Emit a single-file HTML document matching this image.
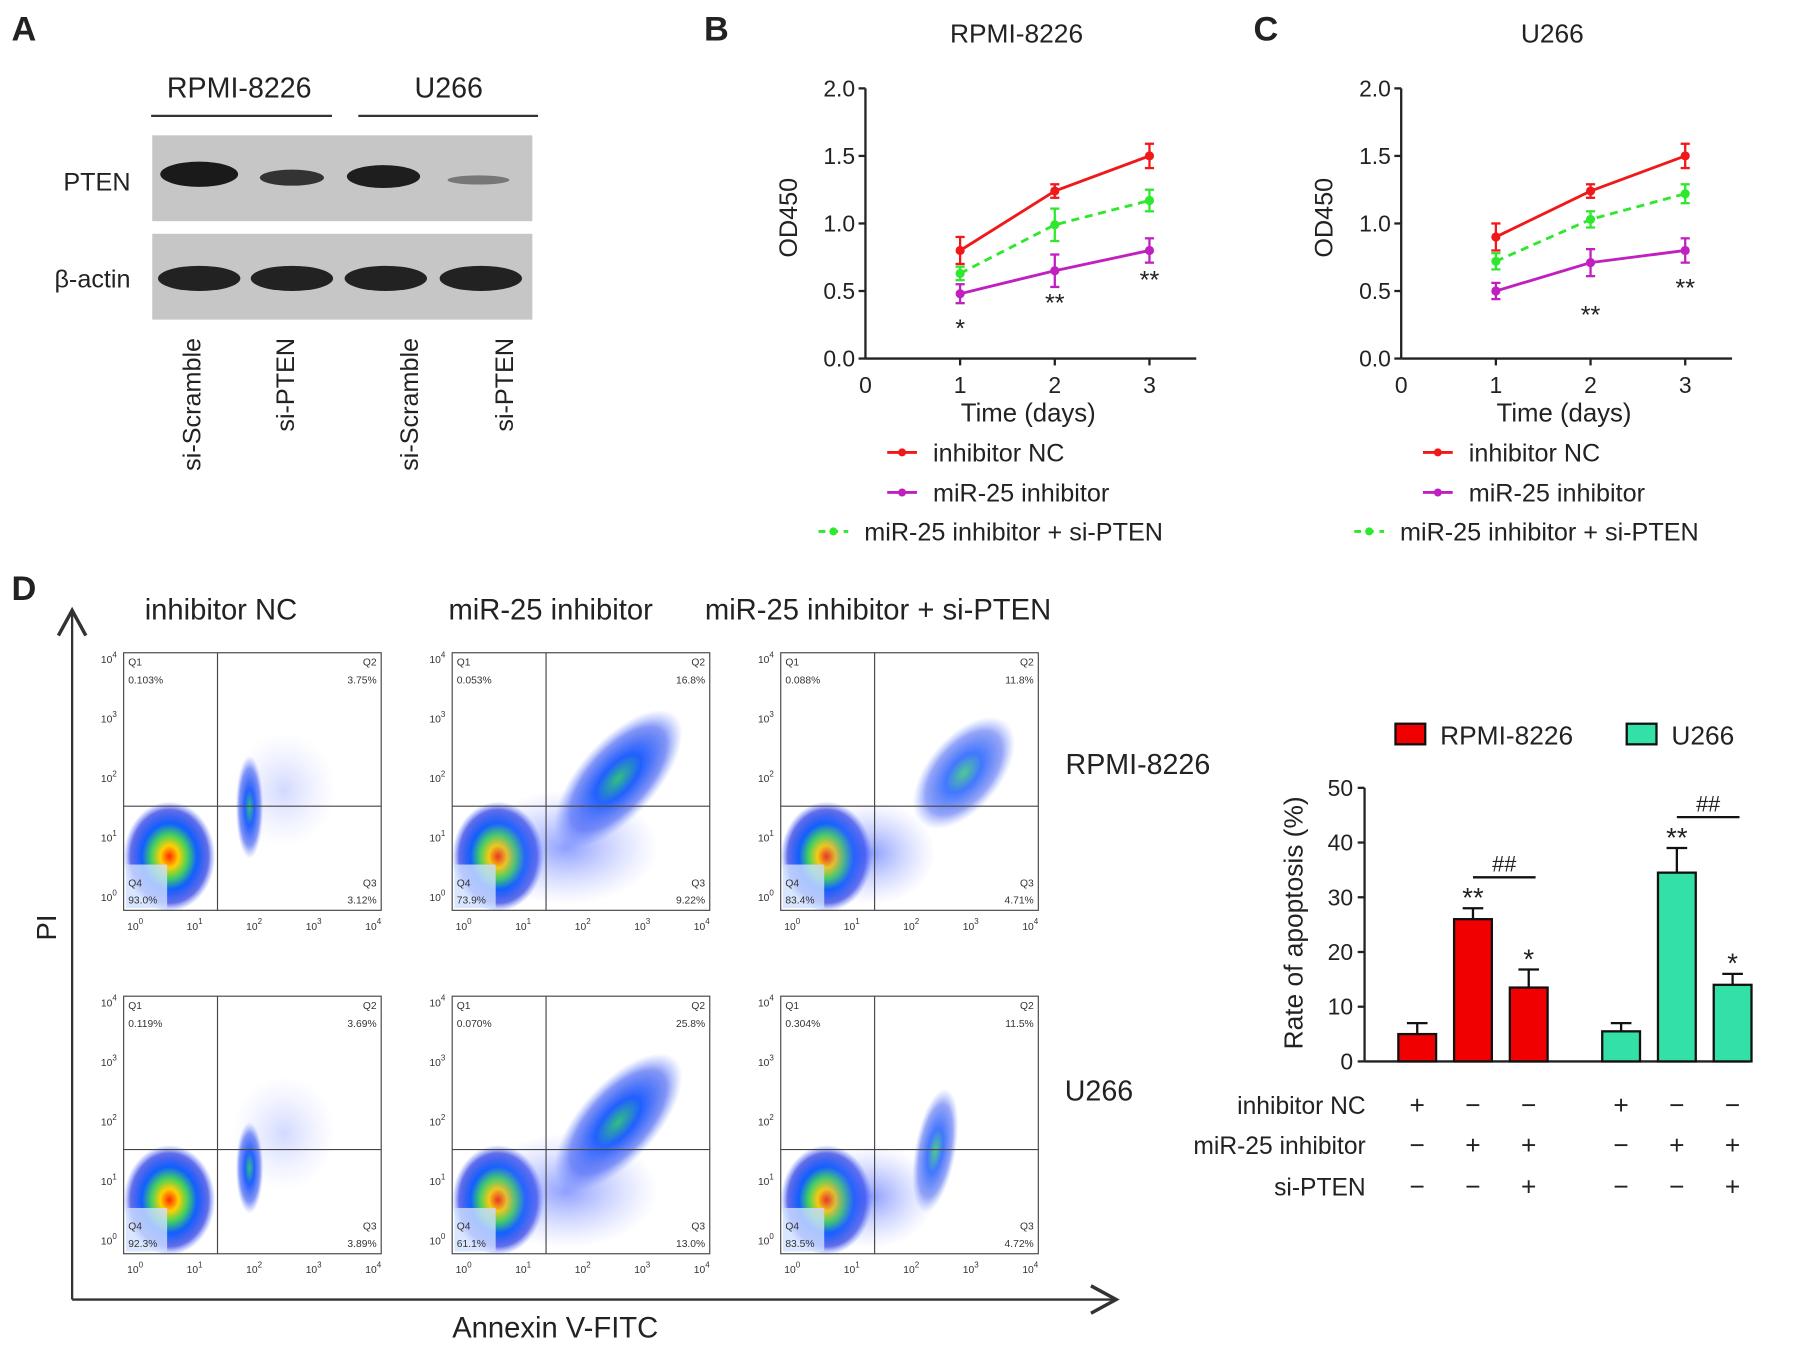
<!DOCTYPE html>
<html><head><meta charset="utf-8">
<style>
html,body{margin:0;padding:0;background:#fff;}
svg{display:block;font-family:"Liberation Sans",sans-serif;}
</style></head>
<body>
<svg id="fig" width="1795" height="1349" viewBox="0 0 1568 1178" xmlns="http://www.w3.org/2000/svg">
<defs>
<radialGradient id="heat" cx="50%" cy="50%" r="50%">
<stop offset="0" stop-color="#ff2a00"/><stop offset="0.2" stop-color="#ffd000"/>
<stop offset="0.4" stop-color="#40d060"/><stop offset="0.6" stop-color="#1060ff"/>
<stop offset="0.85" stop-color="#2030e0" stop-opacity="0.7"/><stop offset="1" stop-color="#4060ff" stop-opacity="0"/>
</radialGradient>
<radialGradient id="cool" cx="50%" cy="50%" r="50%">
<stop offset="0" stop-color="#30c080"/><stop offset="0.35" stop-color="#2060ff"/>
<stop offset="0.75" stop-color="#3050f0" stop-opacity="0.6"/><stop offset="1" stop-color="#6080ff" stop-opacity="0"/>
</radialGradient>
<radialGradient id="faint" cx="50%" cy="50%" r="50%">
<stop offset="0" stop-color="#3050ff" stop-opacity="0.55"/><stop offset="1" stop-color="#8090ff" stop-opacity="0"/>
</radialGradient>
<marker id="arr" markerWidth="14" markerHeight="14" refX="12" refY="7" orient="auto"><path d="M1,1 L12,7 L1,13" fill="none" stroke="#333" stroke-width="1.5"/></marker>
</defs>

<!-- Panel A -->
<g>
<text x="10" y="35" font-size="30" font-weight="bold" fill="#222">A</text>
<text x="209" y="85" font-size="25" text-anchor="middle" fill="#222">RPMI-8226</text>
<line x1="132" y1="101" x2="290" y2="101" stroke="#333" stroke-width="2"/>
<text x="392" y="85" font-size="25" text-anchor="middle" fill="#222">U266</text>
<line x1="313" y1="101" x2="470" y2="101" stroke="#333" stroke-width="2"/>
<rect x="133" y="118" width="332" height="75" fill="#c6c6c6"/>
<rect x="133" y="204" width="332" height="75" fill="#c6c6c6"/>
<ellipse cx="174" cy="152" rx="34" ry="11" fill="#1a1a1a"/>
<ellipse cx="255" cy="155" rx="28" ry="7" fill="#333"/>
<ellipse cx="335" cy="154" rx="32" ry="10" fill="#1e1e1e"/>
<ellipse cx="418" cy="157" rx="27" ry="4" fill="#777"/>
<ellipse cx="174" cy="243" rx="36" ry="11" fill="#222"/>
<ellipse cx="255" cy="243" rx="36" ry="11" fill="#222"/>
<ellipse cx="337" cy="243" rx="36" ry="11" fill="#222"/>
<ellipse cx="420" cy="243" rx="36" ry="11" fill="#222"/>
<text x="114" y="166" font-size="22" text-anchor="end" fill="#222">PTEN</text>
<text x="114" y="251" font-size="22" text-anchor="end" fill="#222">β-actin</text>
<text transform="translate(175,295) rotate(-90)" font-size="22" text-anchor="end" fill="#222">si-Scramble</text>
<text transform="translate(257,295) rotate(-90)" font-size="22" text-anchor="end" fill="#222">si-PTEN</text>
<text transform="translate(365,295) rotate(-90)" font-size="22" text-anchor="end" fill="#222">si-Scramble</text>
<text transform="translate(448,295) rotate(-90)" font-size="22" text-anchor="end" fill="#222">si-PTEN</text>
</g>

<g id="lineB"></g>
<g id="lineC"></g>
<g id="flow"></g>
<g id="bars"></g>
</svg>

<script>
// ---- line chart data ----
const days = [1, 2, 3];
const yTicks = [0.0, 0.5, 1.0, 1.5, 2.0];
const xTicks = [0, 1, 2, 3];
const bNC = [0.80, 1.24, 1.50];
const bNCerr = [0.10, 0.05, 0.09];
const bInh = [0.48, 0.65, 0.80];
const bInhErr = [0.07, 0.12, 0.09];
const bSi = [0.63, 0.99, 1.17];
const bSiErr = [0.05, 0.12, 0.08];
const bStars = ["*", "**", "**"];
const bStarVal = [0.26, 0.45, 0.62];
const cNC = [0.90, 1.24, 1.50];
const cNCerr = [0.10, 0.05, 0.09];
const cInh = [0.50, 0.71, 0.80];
const cInhErr = [0.06, 0.10, 0.09];
const cSi = [0.72, 1.03, 1.22];
const cSiErr = [0.06, 0.06, 0.07];
const cStars = ["", "**", "**"];
const cStarVal = [0, 0.36, 0.56];

// ---- bar chart data ----
const barGroups = ["RPMI-8226","RPMI-8226","RPMI-8226","U266","U266","U266"];
const barValues = [5, 26, 13.5, 5.5, 34.5, 14];
const barErrors = [2, 2, 3.3, 1.5, 4.5, 2];
const barStars = ["", "**", "*", "", "**", "*"];
const barTicks = [0, 10, 20, 30, 40, 50];
const rowNC = ["+","−","−","+","−","−"];
const rowMiR = ["−","+","+","−","+","+"];
const rowSi = ["−","−","+","−","−","+"];

// ---- flow data ----
const flowQ1 = [["0.103%","0.053%","0.088%"],["0.119%","0.070%","0.304%"]];
const flowQ2 = [["3.75%","16.8%","11.8%"],["3.69%","25.8%","11.5%"]];
const flowQ3 = [["3.12%","9.22%","4.71%"],["3.89%","13.0%","4.72%"]];
const flowQ4 = [["93.0%","73.9%","83.4%"],["92.3%","61.1%","83.5%"]];

const NS = "http://www.w3.org/2000/svg";
function mk(parent, tag, attrs, text) {
  const e = document.createElementNS(NS, tag);
  for (const k in attrs) e.setAttribute(k, attrs[k]);
  if (text !== undefined) e.textContent = text;
  parent.appendChild(e);
  return e;
}

function lineChart(g, cfg) {
  const x0 = cfg.x0, yBot = 313, yTop = 77;
  const X = d => x0 + d * 82.7;
  const Y = v => yBot - v / 2 * (yBot - yTop);
  let t = mk(g, "text", {x: cfg.letterX, y: 35, "font-size": 30, "font-weight": "bold", fill: "#222"}, cfg.letter);
  
  
  t = mk(g, "text", {x: cfg.titleX, y: 37, "font-size": 23, "text-anchor": "middle", fill: "#222"}, cfg.title);
  
  
  mk(g, "line", {x1: x0, y1: yTop, x2: x0, y2: yBot, stroke: "#222", "stroke-width": 2});
  mk(g, "line", {x1: x0, y1: yBot, x2: x0 + 289, y2: yBot, stroke: "#222", "stroke-width": 2});
  yTicks.forEach(v => {
    mk(g, "line", {x1: x0 - 6, y1: Y(v), x2: x0, y2: Y(v), stroke: "#222", "stroke-width": 2});
    const tl = mk(g, "text", {x: x0 - 9, y: Y(v) + 7, "font-size": 20, "text-anchor": "end", fill: "#222"}, v.toFixed(1));
    
    
  });
  xTicks.forEach(d => {
    if (d > 0) mk(g, "line", {x1: X(d), y1: yBot, x2: X(d), y2: yBot + 6, stroke: "#222", "stroke-width": 2});
    const tl = mk(g, "text", {x: X(d), y: 343, "font-size": 20, "text-anchor": "middle", fill: "#222"}, d);
    
    
  });
  t = mk(g, "text", {x: X(1.72), y: 368, "font-size": 22.5, "text-anchor": "middle", fill: "#222"}, "Time (days)");
  
  
  t = mk(g, "text", {transform: `translate(${x0 - 60},190) rotate(-90)`, "font-size": 22, "text-anchor": "middle", fill: "#222"}, "OD450");
  
  
  const series = [
    {v: cfg.nc, e: cfg.ncErr, c: "#f01818", dash: null, name: "series-inhibitor-nc"},
    {v: cfg.si, e: cfg.siErr, c: "#2ee82e", dash: "7,5", name: "series-mir25-si-pten"},
    {v: cfg.inh, e: cfg.inhErr, c: "#c020c0", dash: null, name: "series-mir25-inhibitor"}
  ];
  series.forEach(s => {
    const pts = days.map((d, i) => X(d) + "," + Y(s.v[i])).join(" ");
    const pl = mk(g, "polyline", {points: pts, fill: "none", stroke: s.c, "stroke-width": 2.5});
    if (s.dash) pl.setAttribute("stroke-dasharray", s.dash);
    
    
    days.forEach((d, i) => {
      const x = X(d);
      mk(g, "line", {x1: x, y1: Y(s.v[i] - s.e[i]), x2: x, y2: Y(s.v[i] + s.e[i]), stroke: s.c, "stroke-width": 2});
      mk(g, "line", {x1: x - 4, y1: Y(s.v[i] + s.e[i]), x2: x + 4, y2: Y(s.v[i] + s.e[i]), stroke: s.c, "stroke-width": 2});
      mk(g, "line", {x1: x - 4, y1: Y(s.v[i] - s.e[i]), x2: x + 4, y2: Y(s.v[i] - s.e[i]), stroke: s.c, "stroke-width": 2});
      const p = mk(g, "circle", {cx: x, cy: Y(s.v[i]), r: 4, fill: s.c});
      
      
    });
  });
  days.forEach((d, i) => {
    if (!cfg.stars[i]) return;
    const st = mk(g, "text", {x: X(d), y: Y(cfg.starVal[i]) + 12, "font-size": 22, "text-anchor": "middle", fill: "#222"}, cfg.stars[i]);
    
    
  });
  const lx = cfg.legX;
  const leg = [
    {y: 395, c: "#f01818", dash: null, lbl: "inhibitor NC", off: 0},
    {y: 430, c: "#c020c0", dash: null, lbl: "miR-25 inhibitor", off: 0},
    {y: 464, c: "#2ee82e", dash: "6,5", lbl: "miR-25 inhibitor + si-PTEN", off: -60}
  ];
  leg.forEach(L => {
    const l = mk(g, "line", {x1: lx + L.off, y1: L.y, x2: lx + L.off + 26, y2: L.y, stroke: L.c, "stroke-width": 2.5});
    if (L.dash) l.setAttribute("stroke-dasharray", L.dash);
    mk(g, "circle", {cx: lx + L.off + 13, cy: L.y, r: 3.5, fill: L.c});
    const lt = mk(g, "text", {x: lx + L.off + 40, y: L.y + 8, "font-size": 22, fill: "#222"}, L.lbl);
    
    
  });
}
lineChart(document.getElementById("lineB"), {x0: 756, letter: "B", letterX: 615, title: "RPMI-8226", titleX: 888,
  nc: bNC, ncErr: bNCerr, inh: bInh, inhErr: bInhErr, si: bSi, siErr: bSiErr, stars: bStars, starVal: bStarVal, legX: 775});
lineChart(document.getElementById("lineC"), {x0: 1224, letter: "C", letterX: 1095, title: "U266", titleX: 1356,
  nc: cNC, ncErr: cNCerr, inh: cInh, inhErr: cInhErr, si: cSi, siErr: cSiErr, stars: cStars, starVal: cStarVal, legX: 1243});

// ---- Flow panel ----
(function () {
  const g = document.getElementById("flow");
  let t = mk(g, "text", {x: 10, y: 524, "font-size": 30, "font-weight": "bold", fill: "#222"}, "D");
  
  
  const titles = ["inhibitor NC", "miR-25 inhibitor", "miR-25 inhibitor + si-PTEN"];
  const titleX = [193, 481, 767];
  const colX = [108, 395, 682];
  const rowY = [570, 870];
  titles.forEach((s, i) => {
    const tt = mk(g, "text", {x: titleX[i], y: 541, "font-size": 25.5, "text-anchor": "middle", fill: "#222"}, s);
    
    
  });
  mk(g, "line", {x1: 63, y1: 1135, x2: 63, y2: 533, stroke: "#333", "stroke-width": 2, "marker-end": "url(#arr)"});
  mk(g, "line", {x1: 63, y1: 1135, x2: 975, y2: 1135, stroke: "#333", "stroke-width": 2, "marker-end": "url(#arr)"});
  t = mk(g, "text", {transform: "translate(49,810) rotate(-90)", "font-size": 24, "text-anchor": "middle", fill: "#222"}, "PI");
  
  
  t = mk(g, "text", {x: 485, y: 1168, "font-size": 25.5, "text-anchor": "middle", fill: "#222"}, "Annexin V-FITC");
  
  
  t = mk(g, "text", {x: 994, y: 676, "font-size": 25, "text-anchor": "middle", fill: "#222"}, "RPMI-8226");
  
  
  t = mk(g, "text", {x: 960, y: 961, "font-size": 25, "text-anchor": "middle", fill: "#222"}, "U266");
  
  
  const W = 225, H = 225;
  rowY.forEach((y0, r) => colX.forEach((x0, c) => {
    const p = mk(g, "g", {});
    
    
    mk(p, "ellipse", {cx: x0 + 40, cy: y0 + 178, rx: 40, ry: 48, fill: "url(#heat)"});
    mk(p, "rect", {x: x0 + 2, y: y0 + 185, width: 36, height: 38, fill: "#cfe0ff", opacity: 0.8});
    if (c === 0) {
      mk(p, "ellipse", {cx: x0 + 110, cy: y0 + (r ? 150 : 135), rx: 12, ry: r ? 40 : 45, fill: "url(#cool)"});
      mk(p, "ellipse", {cx: x0 + 140, cy: y0 + 120, rx: 45, ry: 50, fill: "url(#faint)", opacity: 0.4});
    } else if (c === 1) {
      mk(p, "ellipse", {cx: x0 + 145, cy: y0 + 110, rx: 75, ry: 34, transform: `rotate(-48 ${x0+145} ${y0+110})`, fill: "url(#cool)"});
      mk(p, "ellipse", {cx: x0 + 100, cy: y0 + 170, rx: 80, ry: 50, fill: "url(#faint)"});
    } else {
      mk(p, "ellipse", {cx: x0 + (r ? 135 : 160), cy: y0 + (r ? 135 : 105), rx: r ? 55 : 58, ry: r ? 18 : 32, transform: `rotate(${r ? -80 : -50} ${x0+(r?135:160)} ${y0+(r?135:105)})`, fill: "url(#cool)", opacity: 0.85});
      mk(p, "ellipse", {cx: x0 + 80, cy: y0 + 175, rx: 55, ry: 45, fill: "url(#faint)"});
    }
    mk(p, "rect", {x: x0, y: y0, width: W, height: H, fill: "none", stroke: "#444", "stroke-width": 1});
    mk(p, "line", {x1: x0 + 82, y1: y0, x2: x0 + 82, y2: y0 + H, stroke: "#444", "stroke-width": 1});
    mk(p, "line", {x1: x0, y1: y0 + 134, x2: x0 + W, y2: y0 + 134, stroke: "#444", "stroke-width": 1});
    const fs = 9;
    mk(p, "text", {x: x0 + 4, y: y0 + 11, "font-size": fs, fill: "#333"}, "Q1");
    mk(p, "text", {x: x0 + 4, y: y0 + 27, "font-size": fs, fill: "#333"}, flowQ1[r][c]);
    mk(p, "text", {x: x0 + W - 4, y: y0 + 11, "font-size": fs, fill: "#333", "text-anchor": "end"}, "Q2");
    mk(p, "text", {x: x0 + W - 4, y: y0 + 27, "font-size": fs, fill: "#333", "text-anchor": "end"}, flowQ2[r][c]);
    mk(p, "text", {x: x0 + W - 4, y: y0 + 204, "font-size": fs, fill: "#333", "text-anchor": "end"}, "Q3");
    mk(p, "text", {x: x0 + W - 4, y: y0 + 219, "font-size": fs, fill: "#333", "text-anchor": "end"}, flowQ3[r][c]);
    mk(p, "text", {x: x0 + 4, y: y0 + 204, "font-size": fs, fill: "#333"}, "Q4");
    mk(p, "text", {x: x0 + 4, y: y0 + 219, "font-size": fs, fill: "#333"}, flowQ4[r][c]);
    for (let k = 0; k <= 4; k++) {
      const tx = x0 + 10 + k * 52;
      const ty = y0 + H - 12 - k * 52;
      const a = mk(p, "text", {x: tx, y: y0 + H + 17, "font-size": 9, fill: "#333", "text-anchor": "middle"}, "10");
      mk(a, "tspan", {dy: -5, "font-size": 7}, k);
      const b = mk(p, "text", {x: x0 - 6, y: ty + 4, "font-size": 9, fill: "#333", "text-anchor": "end"}, "10");
      mk(b, "tspan", {dy: -5, "font-size": 7}, k);
    }
  }));
})();

// ---- Bar chart ----
(function () {
  const g = document.getElementById("bars");
  const x0 = 1192, yBot = 927, yTop = 688, xEnd = 1528;
  const Y = v => yBot - v / 50 * (yBot - yTop);
  const barX = i => 1238 + i * 48.7 + (i >= 3 ? 32 : 0);
  const colors = {"RPMI-8226": "#f00000", "U266": "#33e0a8"};
  const bw = 33;
  mk(g, "line", {x1: x0, y1: yTop, x2: x0, y2: yBot, stroke: "#222", "stroke-width": 2});
  mk(g, "line", {x1: x0, y1: yBot, x2: xEnd, y2: yBot, stroke: "#222", "stroke-width": 2});
  barTicks.forEach(v => {
    mk(g, "line", {x1: x0 - 6, y1: Y(v), x2: x0, y2: Y(v), stroke: "#222", "stroke-width": 2});
    const tl = mk(g, "text", {x: x0 - 10, y: Y(v) + 7, "font-size": 20, "text-anchor": "end", fill: "#222"}, v);
    
    
  });
  let t = mk(g, "text", {transform: "translate(1138,806) rotate(-90)", "font-size": 23, "text-anchor": "middle", fill: "#222"}, "Rate of apoptosis (%)");
  
  
  barValues.forEach((v, i) => {
    const cx = barX(i);
    const top = Y(v + barErrors[i]);
    mk(g, "line", {x1: cx, y1: Y(v), x2: cx, y2: top, stroke: "#111", "stroke-width": 2});
    mk(g, "line", {x1: cx - 9, y1: top, x2: cx + 9, y2: top, stroke: "#111", "stroke-width": 2});
    const b = mk(g, "rect", {x: cx - bw / 2, y: Y(v), width: bw, height: yBot - Y(v), fill: colors[barGroups[i]], stroke: "#111", "stroke-width": 2});
    
    
    if (barStars[i]) {
      const s = mk(g, "text", {x: cx, y: top - 1, "font-size": 24, "text-anchor": "middle", fill: "#222"}, barStars[i]);
      
      
    }
  });
  [[1, 2], [4, 5]].forEach(([a, b]) => {
    const yy = Y(Math.max(barValues[a] + barErrors[a], barValues[b] + barErrors[b])) - 27;
    mk(g, "line", {x1: barX(a), y1: yy, x2: barX(b) + 6, y2: yy, stroke: "#111", "stroke-width": 2});
    const h = mk(g, "text", {x: (barX(a) + barX(b)) / 2 + 3, y: yy - 5, "font-size": 19, "text-anchor": "middle", fill: "#222"}, "##");
    
    
  });
  mk(g, "rect", {x: 1219, y: 632, width: 26, height: 18, fill: "#f00000", stroke: "#111", "stroke-width": 2});
  t = mk(g, "text", {x: 1258, y: 650, "font-size": 23, fill: "#222"}, "RPMI-8226");
  
  
  mk(g, "rect", {x: 1421, y: 632, width: 26, height: 18, fill: "#33e0a8", stroke: "#111", "stroke-width": 2});
  t = mk(g, "text", {x: 1460, y: 650, "font-size": 23, fill: "#222"}, "U266");
  
  
  const rows = [["inhibitor NC", rowNC, 965], ["miR-25 inhibitor", rowMiR, 1000], ["si-PTEN", rowSi, 1036]];
  rows.forEach(([lbl, arr, y]) => {
    const l = mk(g, "text", {x: 1193, y: y + 8, "font-size": 21.5, "text-anchor": "end", fill: "#222"}, lbl);
    
    
    arr.forEach((s, i) => {
      const c = mk(g, "text", {x: barX(i), y: y + 8, "font-size": 23, "text-anchor": "middle", fill: "#222"}, s);
      
      
    });
  });
})();
</script>
</body></html>
